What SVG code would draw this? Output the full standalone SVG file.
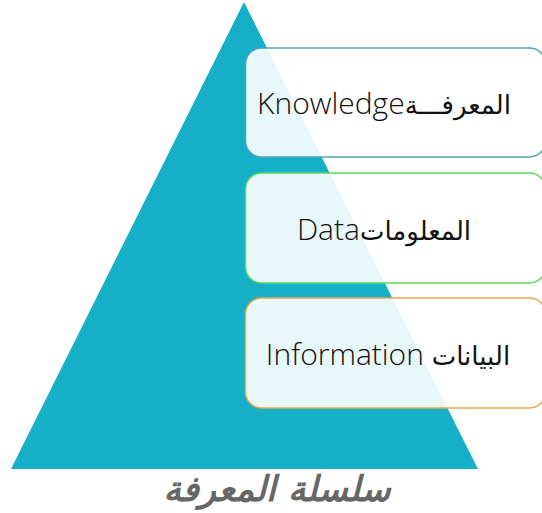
<svg xmlns="http://www.w3.org/2000/svg" width="542" height="513" viewBox="0 0 542 513">
<style>
.box{fill:#ffffff;fill-opacity:0.9;stroke-width:1.5}
.lbl{font-family:"Open Sans","DejaVu Sans",sans-serif;font-weight:300;font-size:30px;fill:#111;text-anchor:middle}
.ar{font-family:"DejaVu Sans",sans-serif;font-weight:normal;font-size:26px}
.title{font-family:"DejaVu Sans",sans-serif;font-weight:bold;font-style:italic;font-size:35px;fill:#666;text-anchor:middle}
</style>
<rect width="542" height="513" fill="#ffffff"/>
<g id="pyramid">
<polygon points="244,2 478,469 11,469" fill="#15AFC7"/>
</g>
<g id="connectors"></g>
<g id="knowledge">
<rect class="box" x="245.5" y="48" width="300" height="109" rx="16" stroke="#4FA3C0"/>
<text class="lbl" x="384" y="114">Knowledge<tspan class="ar">المعرفـــة</tspan></text>
</g>
<g id="data">
<rect class="box" x="245.5" y="173" width="300" height="110" rx="16" stroke="#5BD85B"/>
<text class="lbl" x="384" y="240">Data<tspan class="ar">المعلومات</tspan></text>
</g>
<g id="information">
<rect class="box" x="245.5" y="298" width="300" height="110" rx="16" stroke="#E8A94A"/>
<text class="lbl" x="388" y="365">Information <tspan class="ar">البيانات</tspan></text>
</g>
<g id="caption">
<text class="title" x="277" y="501">سلسلة المعرفة</text>
</g>
</svg>
